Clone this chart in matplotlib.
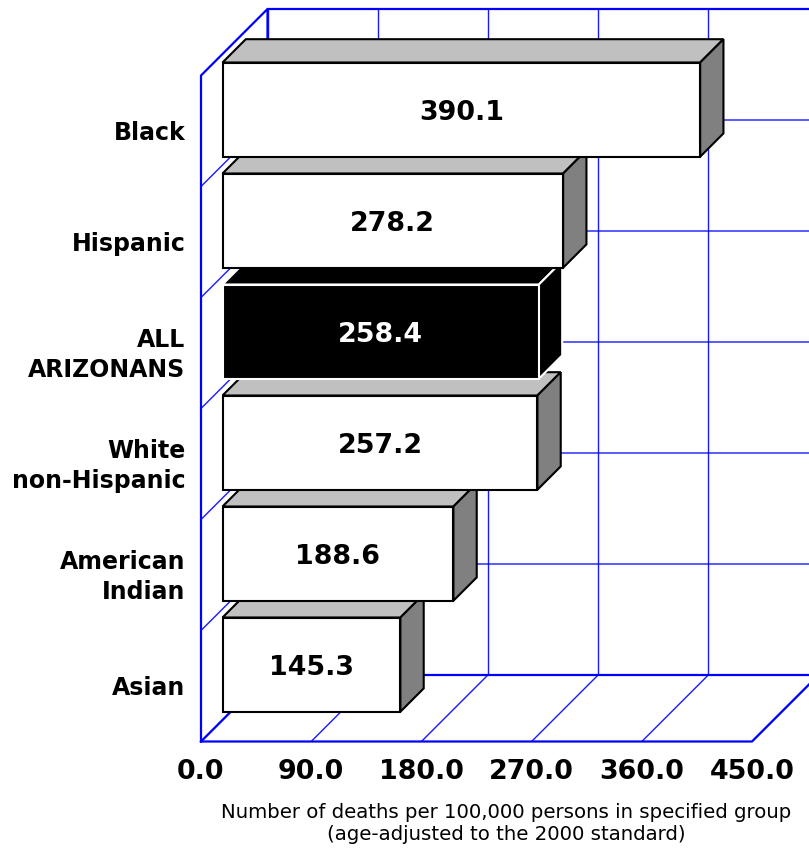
import matplotlib
matplotlib.use("Agg")
import matplotlib.pyplot as plt
from matplotlib.patches import Polygon

categories = ["Black", "Hispanic", "ALL\nARIZONANS", "White\nnon-Hispanic", "American\nIndian", "Asian"]
values = [390.1, 278.2, 258.4, 257.2, 188.6, 145.3]
value_labels = ["390.1", "278.2", "258.4", "257.2", "188.6", "145.3"]
highlight = "ALL\nARIZONANS"
ticks = [0, 90, 180, 270, 360, 450]
tick_labels = ["0.0", "90.0", "180.0", "270.0", "360.0", "450.0"]
xlabel = "Number of deaths per 100,000 persons in specified group\n(age-adjusted to the 2000 standard)"

W, H = 809, 850
PX_X = 110.2 / 90      # pixels per value unit
PX_Y = 111.0           # pixels per category row
X0, Y0 = 201.0, 131.0  # pixel position of value 0 / first row centre on the front plane

def dx(px):
    return px / PX_X

def dy(px):
    return px / PX_Y

fig = plt.figure(figsize=(W / 100, H / 100), dpi=100)
ax = fig.add_axes([0, 0, 1, 1])
ax.set_xlim(-dx(X0), dx(W - X0))
ax.set_ylim(dy(H - Y0), -dy(Y0))
ax.axis("off")
plt.rcParams["font.family"] = ["DejaVu Sans"]

BLUE = "#0000FF"
DX, DY = dx(66.5), dy(66.5)
n = len(categories)
r_top, r_bot = -0.5, n - 0.5
vmin, vmax = ticks[0], ticks[-1]
THIN = dict(color=BLUE, lw=1.0, alpha=0.9, solid_capstyle="butt", zorder=1)
THICK = dict(color=BLUE, lw=1.6, solid_capstyle="projecting", zorder=2)

# back wall and floor grid
for t in ticks:
    ax.plot([t + DX, t + DX], [r_bot - DY, r_top - DY], **THIN)
    ax.plot([t, t + DX], [r_bot, r_bot - DY], **THIN)
for i in range(1, n):
    ax.plot([vmin, vmin + DX, vmax + DX], [r_top + i, r_top + i - DY, r_top + i - DY], **THIN)

# frame
ax.plot([vmin, vmin, vmin + DX, vmin + DX], [r_bot, r_top, r_top - DY, r_bot - DY], **THICK)
ax.plot([vmin + DX, vmax + DX], [r_top - DY, r_top - DY], **THICK)
ax.plot([vmin, vmin + DX, vmax + DX], [r_bot, r_bot - DY, r_bot - DY], **THICK)
ax.plot([vmin, vmax, vmax + DX], [r_bot, r_bot, r_bot - DY], **THICK)

# bars, lower rows first so upper bars overlap them
OX, OY = dx(21.5), dy(21.4)
BX, BY = dx(23.3), dy(23.3)
HALF = dy(47.1)
for i in range(n - 1, -1, -1):
    v, cat = values[i], categories[i]
    dark = cat == highlight
    l, r = OX, OX + v
    t, b = i - OY - HALF, i - OY + HALF
    edge = "white" if dark else "black"
    face = "black" if dark else "white"
    top_c = "black" if dark else "#C0C0C0"
    side_c = "black" if dark else "#808080"
    z = 10 + (n - i)
    kw = dict(edgecolor=edge, lw=1.5, joinstyle="miter", zorder=z)
    ax.add_patch(Polygon([(l, t), (l + BX, t - BY), (r + BX, t - BY), (r, t)], facecolor=top_c, **kw))
    ax.add_patch(Polygon([(r, t), (r + BX, t - BY), (r + BX, b - BY), (r, b)], facecolor=side_c, **kw))
    ax.add_patch(Polygon([(l, t), (r, t), (r, b), (l, b)], facecolor=face, **kw))
    ax.text((l + r) / 2, i - OY + dy(3), value_labels[i], ha="center", va="center",
            fontsize=19.4, fontweight="bold", color="white" if dark else "black", zorder=z + 0.5)

# category labels
for i, cat in enumerate(categories):
    ax.text(dx(185.5 - X0), i + dy(2), cat, ha="right", va="center", fontsize=17,
            fontweight="bold", color="black", linespacing=1.35)

# value axis labels
for t, lab in zip(ticks, tick_labels):
    ax.text(t, dy(772 - Y0), lab, ha="center", va="center", fontsize=19.4, fontweight="bold", color="black")

ax.text(dx(506 - X0), dy(823.5 - Y0), xlabel, ha="center", va="center", fontsize=14.2, color="black",
        linespacing=1.15)

fig.savefig("out.png", dpi=100)
